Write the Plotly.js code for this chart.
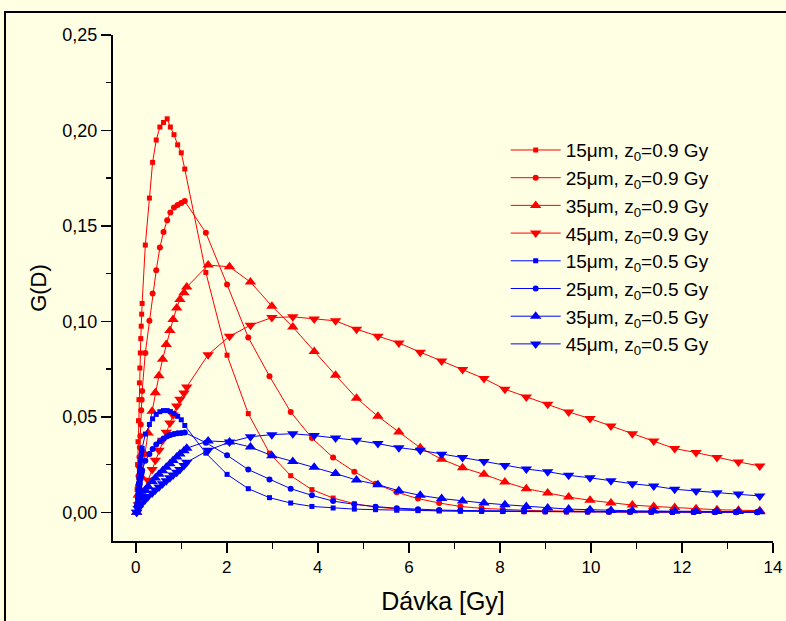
<!DOCTYPE html>
<html>
<head>
<meta charset="utf-8">
<script src="https://cdn.plot.ly/plotly-3.0.1.min.js"></script>
<style>
  html, body { margin: 0; padding: 0; background: #FFFFE4; overflow: hidden; }
  #wrap { position: relative; width: 786px; height: 621px; }
  #chart { position: absolute; left: 0; top: 0; width: 786px; height: 621px; }
  #frame { position: absolute; left: 4px; top: 11px; width: 800px; height: 700px;
           border: 2px solid #000; pointer-events: none; }
</style>
</head>
<body>
<div id="wrap"><div id="chart"></div><div id="frame"></div></div>
<script>
// Dose grids (Gy)
const dDenseSq  = [0.02,0.03,0.04,0.05,0.06,0.07,0.08,0.09,0.10,0.11,0.12,0.13,0.14,
                   0.21,0.30,0.37,0.45,0.53,0.61,0.69,0.76,0.84,0.92,1.00,1.077];
const dSparseSq = [1.54,2.006,2.472,2.938,3.404,3.87,4.336,4.802,5.268,5.734,6.2,6.666,7.132,
                   7.598,8.064,8.53,8.996,9.462,9.928,10.394,10.86,11.326,11.792,12.258,12.724,13.19,13.656];
const dDenseTri  = [0.02,0.055,0.125,0.2,0.27,0.36,0.43,0.51,0.59,0.67,0.75,0.82,0.9,0.97,1.06,1.12];
const dSparseTri = [1.59,2.06,2.52,2.99,3.45,3.92,4.39,4.85,5.32,5.78,6.25,6.72,7.18,7.65,8.11,
                    8.58,9.05,9.51,9.98,10.44,10.91,11.38,11.84,12.31,12.77,13.24,13.71];

// G(D) values, z0 = 0.9 Gy
const red15Dense  = [0,0.012,0.025,0.037,0.048,0.059,0.0678,0.0756,0.0835,0.091,0.0975,0.1038,0.1094,
                     0.140,0.1646,0.1833,0.195,0.2018,0.2042,0.2061,0.2018,0.1978,0.1925,0.1883,0.1798];
const red15Sparse = [0.1256,0.0823,0.0517,0.031,0.0192,0.0119,0.0075,0.0045,0.0028,0.0018,0.0012,0.0008,0.0006,
                     0.0005,0.0004,0.0003,0.0003,0.0002,0.0002,0.0002,0.0001,0.0001,0.0001,0.0001,0.0001,0.0001,0.0001];
const red25Dense  = [0,0.004,0.009,0.014,0.019,0.024,0.029,0.034,0.040,0.046,0.0535,0.059,0.0636,
                     0.0835,0.1003,0.1146,0.1268,0.1387,0.1468,0.153,0.157,0.1597,0.161,0.162,0.163];
const red25Sparse = [0.1464,0.1193,0.0916,0.0713,0.0526,0.0389,0.0287,0.0213,0.015,0.0105,0.0072,0.0049,0.0031,
                     0.0021,0.0015,0.0011,0.0008,0.0006,0.0005,0.0004,0.0003,0.0003,0.0002,0.0002,0.0002,0.0001,0.0001];
const red35Dense  = [0,0.009,0.0185,0.0304,0.0416,0.053,0.0627,0.0716,0.0802,0.0879,0.0952,0.101,0.107,0.1115,0.115,0.118];
const red35Sparse = [0.1295,0.1286,0.1206,0.108,0.0971,0.0842,0.0718,0.0598,0.0503,0.0421,0.0338,0.0278,0.0234,
                     0.0199,0.0159,0.0124,0.0101,0.008,0.0063,0.0049,0.0038,0.0031,0.0025,0.0019,0.0014,0.0011,0.0009];
const red45Dense  = [0,0.004,0.0075,0.0115,0.0168,0.0224,0.0273,0.0325,0.0377,0.042,0.0468,0.051,0.0557,0.0592,0.0625,0.0657];
const red45Sparse = [0.0826,0.0922,0.098,0.102,0.1024,0.1012,0.1003,0.0959,0.0922,0.0887,0.0839,0.0793,0.0748,
                     0.0701,0.0645,0.0604,0.0566,0.0526,0.0491,0.0452,0.0412,0.0374,0.0334,0.0313,0.0287,0.0264,0.0243];

// G(D) values, z0 = 0.5 Gy
const blue15Dense  = [0,0.004,0.008,0.0115,0.015,0.018,0.021,0.0235,0.026,0.028,0.030,0.032,0.0335,
                      0.041,0.046,0.049,0.0513,0.0527,0.0533,0.0533,0.0528,0.0518,0.0503,0.0485,0.0455];
const blue15Sparse = [0.031,0.0199,0.0124,0.0077,0.0049,0.0031,0.0023,0.0017,0.0014,0.0011,0.0009,0.0008,0.0007,
                      0.0006,0.0005,0.0005,0.0004,0.0004,0.0003,0.0003,0.0003,0.0002,0.0002,0.0002,0.0002,0.0001,0.0001];
const blue25Dense  = [0,0.003,0.005,0.007,0.009,0.011,0.013,0.015,0.017,0.0185,0.020,0.021,0.022,
                      0.027,0.0305,0.0332,0.0355,0.0373,0.0387,0.0398,0.0405,0.041,0.0414,0.0416,0.0418];
const blue25Sparse = [0.0365,0.0299,0.0224,0.0172,0.0124,0.0089,0.0059,0.0042,0.003,0.0022,0.0016,0.0012,0.001,
                      0.0008,0.0007,0.0006,0.0005,0.0004,0.0004,0.0003,0.0003,0.0003,0.0002,0.0002,0.0002,0.0002,0.0001];
const blue35Dense  = [0,0.004,0.0085,0.0115,0.0135,0.0162,0.018,0.02,0.0218,0.0236,0.0254,0.0271,0.029,0.0305,0.0323,0.0336];
const blue35Sparse = [0.0374,0.0369,0.0342,0.0297,0.0267,0.0236,0.0203,0.0169,0.0145,0.0113,0.0089,0.0072,0.0059,
                      0.0049,0.004,0.0031,0.0023,0.0017,0.0014,0.001,0.0008,0.0007,0.0006,0.0005,0.0004,0.0004,0.0003];
const blue45Dense  = [0,0.002,0.0045,0.0065,0.0083,0.0102,0.0117,0.0133,0.015,0.0166,0.0181,0.0196,0.021,0.0224,0.0245,0.0262];
const blue45Sparse = [0.0325,0.0368,0.0396,0.0407,0.0412,0.0402,0.039,0.0377,0.036,0.0339,0.0325,0.0304,0.0287,
                      0.0267,0.0246,0.0227,0.0213,0.0194,0.0181,0.0165,0.015,0.0138,0.0121,0.0112,0.0103,0.0096,0.0086];

const seriesNames = [
  '15\u03bcm, z<sub>0</sub>=0.9 Gy', '25\u03bcm, z<sub>0</sub>=0.9 Gy',
  '35\u03bcm, z<sub>0</sub>=0.9 Gy', '45\u03bcm, z<sub>0</sub>=0.9 Gy',
  '15\u03bcm, z<sub>0</sub>=0.5 Gy', '25\u03bcm, z<sub>0</sub>=0.5 Gy',
  '35\u03bcm, z<sub>0</sub>=0.5 Gy', '45\u03bcm, z<sub>0</sub>=0.5 Gy'
];
const xTickVals = [0,2,4,6,8,10,12,14];
const yTickVals = [0,0.05,0.10,0.15,0.20,0.25];

const RED = '#FF0000', BLUE = '#0000FF';
const sqX = dDenseSq.concat(dSparseSq);
const triX = dDenseTri.concat(dSparseTri);

function tr(name, x, y, color, symbol, size) {
  return {
    type: 'scatter', mode: 'lines+markers', name: name, x: x, y: y,
    line: {color: color, width: 1},
    marker: {color: color, symbol: symbol, size: size, line: {width: 0}}
  };
}

const data = [
  tr(seriesNames[0], sqX, red15Dense.concat(red15Sparse), RED, 'square', 5),
  tr(seriesNames[1], sqX, red25Dense.concat(red25Sparse), RED, 'circle', 6),
  tr(seriesNames[2], triX, red35Dense.concat(red35Sparse), RED, 'triangle-up', 10),
  tr(seriesNames[3], triX, red45Dense.concat(red45Sparse), RED, 'triangle-down', 10),
  tr(seriesNames[4], sqX, blue15Dense.concat(blue15Sparse), BLUE, 'square', 5),
  tr(seriesNames[5], sqX, blue25Dense.concat(blue25Sparse), BLUE, 'circle', 6),
  tr(seriesNames[6], triX, blue35Dense.concat(blue35Sparse), BLUE, 'triangle-up', 10),
  tr(seriesNames[7], triX, blue45Dense.concat(blue45Sparse), BLUE, 'triangle-down', 10)
];

const FONT = 'Arial, "Liberation Sans", sans-serif';
const layout = {
  width: 786, height: 621,
  margin: {l: 113, r: 13, t: 35, b: 80, pad: 0},
  paper_bgcolor: '#FFFFE4', plot_bgcolor: '#FFFFE4',
  separators: ', ',
  font: {family: FONT, size: 17, color: '#000'},
  showlegend: true,
  legend: {
    x: 0.595, y: 0.81, xanchor: 'left', yanchor: 'top',
    bgcolor: 'rgba(0,0,0,0)', borderwidth: 0,
    font: {family: FONT, size: 19, color: '#000'},
    itemwidth: 50, tracegroupgap: 0
  },
  xaxis: {
    range: [-0.5, 14], showgrid: false, zeroline: false,
    showline: true, linecolor: '#000', linewidth: 2,
    ticks: 'outside', ticklen: 10, tickwidth: 1.5, tickcolor: '#000',
    tickmode: 'array', tickvals: xTickVals, ticktext: xTickVals.map(String),
    minor: {dtick: 1, tick0: 0, ticks: 'outside', ticklen: 6, tickwidth: 1.5, tickcolor: '#000', showgrid: false},
    tickfont: {family: FONT, size: 17},
    title: {text: 'D\u00e1vka [Gy]', font: {family: FONT, size: 25}, standoff: 16}
  },
  yaxis: {
    range: [-0.015, 0.25], showgrid: false, zeroline: false,
    showline: true, linecolor: '#000', linewidth: 2,
    ticks: 'outside', ticklen: 10, tickwidth: 1.5, tickcolor: '#000',
    tickmode: 'array', tickvals: yTickVals, tickformat: '.2f',
    minor: {dtick: 0.025, tick0: 0, ticks: 'outside', ticklen: 5, tickwidth: 1.5, tickcolor: '#000', showgrid: false},
    tickfont: {family: FONT, size: 18},
    title: {text: 'G(D)', font: {family: FONT, size: 22}, standoff: 10}
  }
};

Plotly.newPlot('chart', data, layout, {displayModeBar: false, staticPlot: true});
</script>
</body>
</html>
